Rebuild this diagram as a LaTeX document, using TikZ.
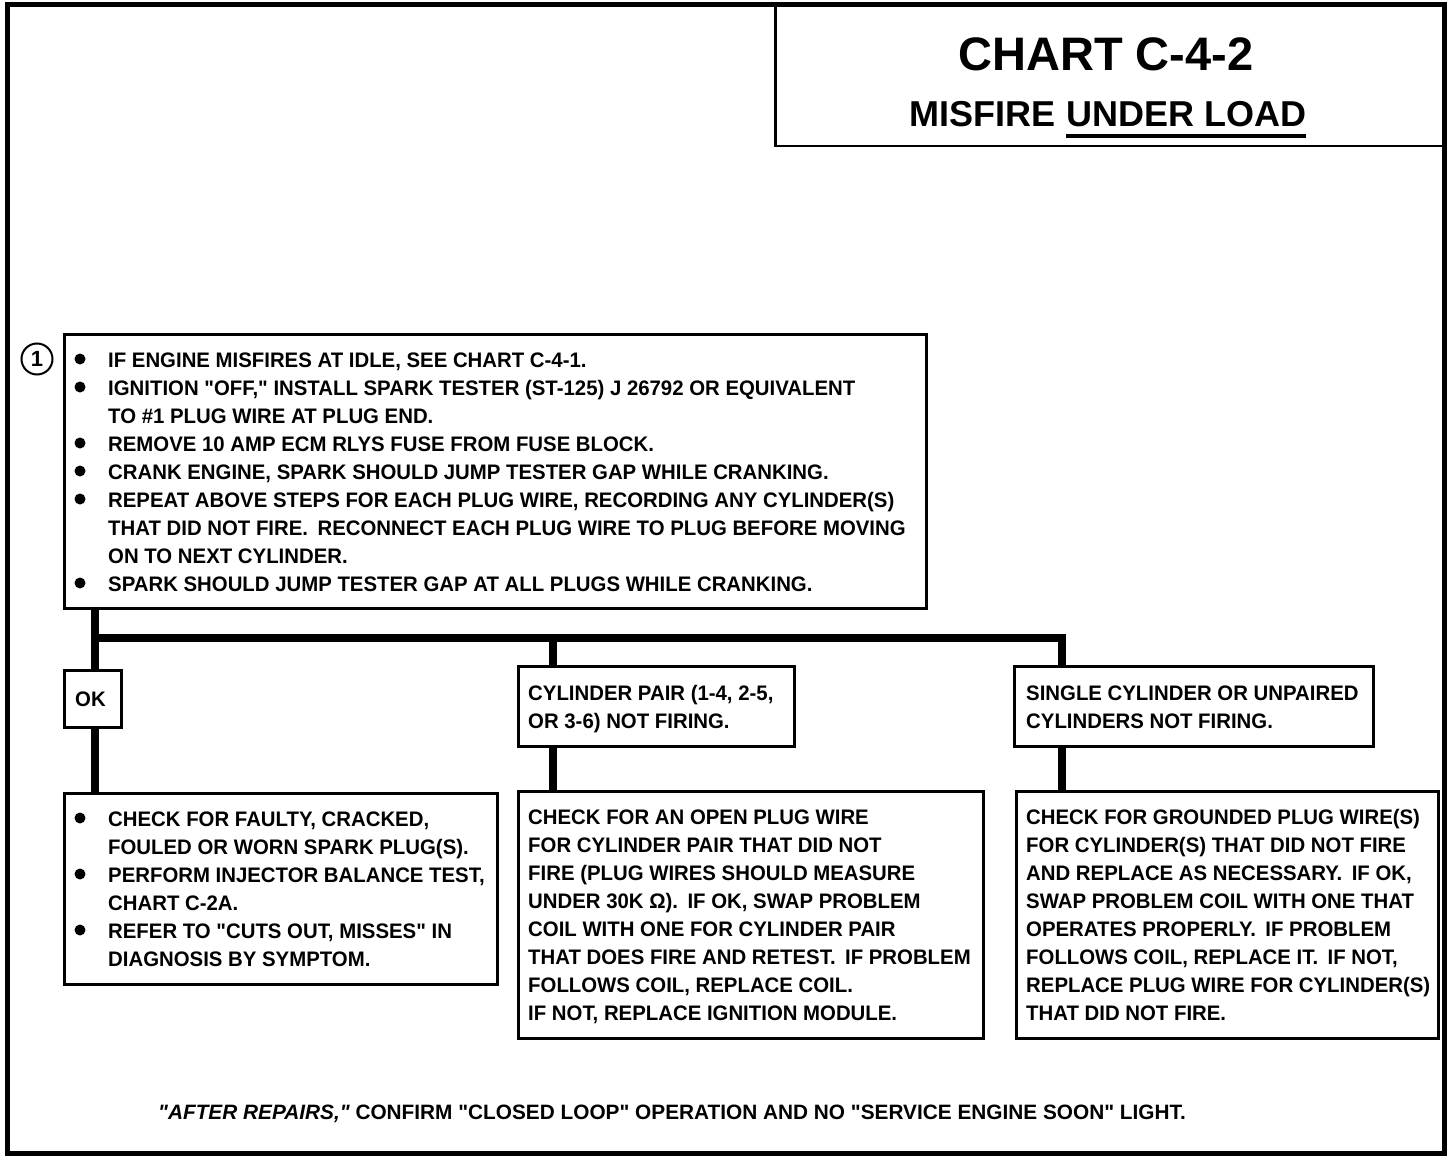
\documentclass[tikz,border=0pt]{standalone}
\usepackage{fontspec}
\setmainfont{Liberation Sans}
\newfontfamily\bodyf{Liberation Sans}[FakeStretch=0.97]
\newfontfamily\footf{Liberation Sans}
\newcommand\qq{\symbol{34}}
\newcommand\dsp{\hspace{0.45em}}
\begin{document}
\begin{tikzpicture}[x=1pt,y=-1pt,
  box/.style={draw, line width=2.5pt, anchor=north west, inner sep=0pt},
  bus/.style={line width=8pt, line join=miter},
  txt/.style={anchor=base west, inner sep=0pt, font=\bodyf\bfseries\fontsize{21}{21}\selectfont},
  dot/.style={fill=black}]
\useasboundingbox (0,0) rectangle (1456,1158);
% outer frame
\draw[line width=5pt] (7,5) rectangle (1444,1153);
% title box
\node[box, minimum width=669pt, minimum height=140pt] (tbox) at (774,5) {};
\node[anchor=base, inner sep=0pt, font=\bfseries\fontsize{47}{47}\selectfont] (title) at (1106,71) {CHART C-4-2};
\node[anchor=base east, inner sep=0pt, font=\bfseries\fontsize{36}{36}\selectfont] (mis) at (1056,127) {MISFIRE};
\node[anchor=base west, inner sep=0pt, font=\bfseries\fontsize{36}{36}\selectfont] (ul) at (1066,127) {UNDER LOAD};
\draw[line width=4pt] ([yshift=-9pt]ul.base west) -- ([yshift=-9pt]ul.base east);

% step 1 box
\node[draw, circle, line width=2pt, minimum size=31pt, inner sep=0pt, font=\bfseries\fontsize{22}{22}\selectfont] (c1) at (37,359) {1};
\node[box, minimum width=862pt, minimum height=274pt] (b1) at (63,333) {};
\foreach \t [count=\i from 0] in {
  {IF ENGINE MISFIRES AT IDLE, SEE CHART C-4-1.},
  {IGNITION \qq OFF,\qq\ INSTALL SPARK TESTER (ST-125) J 26792 OR EQUIVALENT},
  {TO \#1 PLUG WIRE AT PLUG END.},
  {REMOVE 10 AMP ECM RLYS FUSE FROM FUSE BLOCK.},
  {CRANK ENGINE, SPARK SHOULD JUMP TESTER GAP WHILE CRANKING.},
  {REPEAT ABOVE STEPS FOR EACH PLUG WIRE, RECORDING ANY CYLINDER(S)},
  {THAT DID NOT FIRE.\dsp RECONNECT EACH PLUG WIRE TO PLUG BEFORE MOVING},
  {ON TO NEXT CYLINDER.},
  {SPARK SHOULD JUMP TESTER GAP AT ALL PLUGS WHILE CRANKING.}}
  \node[txt] (b1t\i) at (108,367+28*\i) {\t};
\foreach \i in {0,1,3,4,5,8} \fill[dot] (80,359+28*\i) circle (5.5pt);

% branch boxes
\node[box, minimum width=57pt, minimum height=57pt] (ok) at (63,669) {};
\node[txt] (okt) at (75,706) {OK};
\node[box, minimum width=276pt, minimum height=80pt] (pair) at (517,665) {};
\node[txt] (pairt0) at (528,700) {CYLINDER PAIR (1-4, 2-5,};
\node[txt] (pairt1) at (528,728) {OR 3-6) NOT FIRING.};
\node[box, minimum width=359pt, minimum height=80pt] (single) at (1013,665) {};
\node[txt] (singlet0) at (1026,700) {SINGLE CYLINDER OR UNPAIRED};
\node[txt] (singlet1) at (1026,728) {CYLINDERS NOT FIRING.};

% result boxes
\node[box, minimum width=433pt, minimum height=191pt] (r1) at (63,792) {};
\foreach \t [count=\i from 0] in {
  {CHECK FOR FAULTY, CRACKED,},
  {FOULED OR WORN SPARK PLUG(S).},
  {PERFORM INJECTOR BALANCE TEST,},
  {CHART C-2A.},
  {REFER TO \qq CUTS OUT, MISSES\qq\ IN},
  {DIAGNOSIS BY SYMPTOM.}}
  \node[txt] (r1t\i) at (108,826+28*\i) {\t};
\foreach \i in {0,2,4} \fill[dot] (80,818+28*\i) circle (5.5pt);

\node[box, minimum width=465pt, minimum height=247pt] (r2) at (517,790) {};
\foreach \t [count=\i from 0] in {
  {CHECK FOR AN OPEN PLUG WIRE},
  {FOR CYLINDER PAIR THAT DID NOT},
  {FIRE (PLUG WIRES SHOULD MEASURE},
  {UNDER 30K Ω).\dsp IF OK, SWAP PROBLEM},
  {COIL WITH ONE FOR CYLINDER PAIR},
  {THAT DOES FIRE AND RETEST.\dsp IF PROBLEM},
  {FOLLOWS COIL, REPLACE COIL.},
  {IF NOT, REPLACE IGNITION MODULE.}}
  \node[txt] (r2t\i) at (528,824+28*\i) {\t};

\node[box, minimum width=422pt, minimum height=247pt] (r3) at (1015,790) {};
\foreach \t [count=\i from 0] in {
  {CHECK FOR GROUNDED PLUG WIRE(S)},
  {FOR CYLINDER(S) THAT DID NOT FIRE},
  {AND REPLACE AS NECESSARY.\dsp IF OK,},
  {SWAP PROBLEM COIL WITH ONE THAT},
  {OPERATES PROPERLY.\dsp IF PROBLEM},
  {FOLLOWS COIL, REPLACE IT.\dsp IF NOT,},
  {REPLACE PLUG WIRE FOR CYLINDER(S)},
  {THAT DID NOT FIRE.}}
  \node[txt] (r3t\i) at (1026,824+28*\i) {\t};

% connectors
\coordinate (jL) at (95,638);
\coordinate (jM) at (553,638);
\coordinate (jR) at (1062,638);
\draw[bus] (jL |- b1.south) -- (jL |- ok.north);
\draw[bus] (jL) -- (jR) -- (jR |- single.north);
\draw[bus] (jM) -- (jM |- pair.north);
\draw[bus] (jL |- ok.south) -- (jL |- r1.north);
\draw[bus] (jM |- pair.south) -- (jM |- r2.north);
\draw[bus] (jR |- single.south) -- (jR |- r3.north);

% footer
\node[anchor=base west, inner sep=0pt, font=\footf\bfseries\fontsize{20.8}{21}\selectfont] (foot) at (158,1119)
  {{\itshape \qq AFTER REPAIRS,\qq}\ CONFIRM \qq CLOSED LOOP\qq\ OPERATION AND NO \qq SERVICE ENGINE SOON\qq\ LIGHT.};
\end{tikzpicture}
\end{document}
